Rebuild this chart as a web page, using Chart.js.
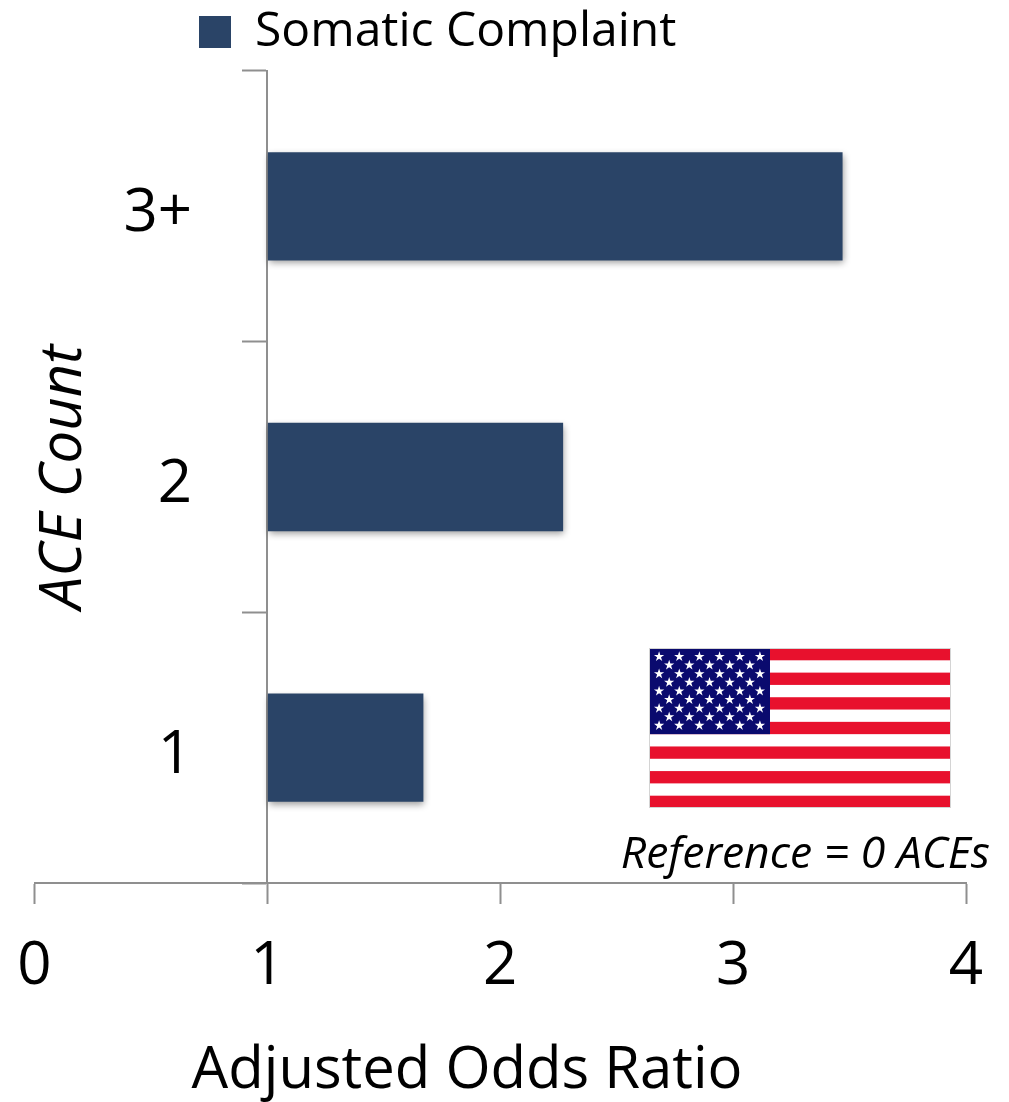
<!DOCTYPE html>
<html>
<head>
<meta charset="utf-8">
<title>Somatic Complaint by ACE Count</title>
<script src="https://cdn.jsdelivr.net/npm/chart.js@4/dist/chart.umd.min.js"></script>
<style>
  html, body { margin: 0; padding: 0; background: #ffffff; }
  #wrap { position: relative; width: 1009px; height: 1102px; }
</style>
</head>
<body>
<div id="wrap"><canvas id="chart" width="1009" height="1102"></canvas></div>
<script>
const categories = ['3+', '2', '1'];
const seriesName = 'Somatic Complaint';
const oddsRatios = [3.47, 2.27, 1.67];
const xTicks = [0, 1, 2, 3, 4];
const xAxisTitle = 'Adjusted Odds Ratio';
const yAxisTitle = 'ACE Count';
const noteText = 'Reference = 0 ACEs';

const FONT = '"Open Sans", sans-serif';
const AXIS_GREY = '#8f8f8f';

// Soft drop shadow under the bars.
const barShadow = {
  id: 'barShadow',
  beforeDatasetDraw(chart) {
    const c = chart.ctx;
    c.save();
    c.shadowColor = 'rgba(0,0,0,0.40)';
    c.shadowBlur = 7;
    c.shadowOffsetX = 1;
    c.shadowOffsetY = 3;
  },
  afterDatasetDraw(chart) { chart.ctx.restore(); }
};

// Places the legend above the plot, left of its centre.
const legendPlacement = {
  id: 'legendPlacement',
  afterLayout(chart) {
    chart.legend.left = 186;
    chart.legend.top = -5;
  }
};

function star(c, cx, cy, r) {
  c.beginPath();
  for (let i = 0; i < 10; i++) {
    const rad = i % 2 ? r * 0.382 : r;
    const a = -Math.PI / 2 + i * Math.PI / 5;
    c.lineTo(cx + rad * Math.cos(a), cy + rad * Math.sin(a));
  }
  c.closePath();
  c.fill();
}

// US flag, the reference-group note and the off-centre x axis title.
const annotations = {
  id: 'annotations',
  afterDraw(chart) {
    const c = chart.ctx;
    const left = 649, top = 648, w = 302, h = 160;
    const stripe = h / 13;
    c.save();
    c.fillStyle = '#ffffff';
    c.fillRect(left, top, w, h);
    c.fillStyle = '#e8112d';
    for (let i = 0; i < 13; i += 2) c.fillRect(left, top + i * stripe, w, stripe);
    const cantonW = 121, cantonH = stripe * 7;
    c.fillStyle = '#0a0a6e';
    c.fillRect(left, top, cantonW, cantonH);
    c.fillStyle = '#ffffff';
    const dx = cantonW / 6, dy = cantonH / 10;
    for (let row = 0; row < 9; row++) {
      const odd = row % 2 === 1;
      for (let col = 0; col < (odd ? 5 : 6); col++) {
        star(c, left + dx * (col + (odd ? 1 : 0.5)), top + dy * (row + 1), 5.4);
      }
    }
    c.strokeStyle = '#d4d4d4';
    c.lineWidth = 1;
    c.strokeRect(left + 0.5, top + 0.5, w - 1, h - 1);

    c.fillStyle = '#000000';
    c.textBaseline = 'middle';
    c.textAlign = 'right';
    c.font = 'italic 44.5px ' + FONT;
    c.fillText(noteText, 990, 855);

    c.textAlign = 'center';
    c.font = '58px ' + FONT;
    c.fillText(xAxisTitle, 467, 1071);
    c.restore();
  }
};

new Chart(document.getElementById('chart'), {
  type: 'bar',
  data: {
    labels: categories,
    datasets: [{
      label: seriesName,
      data: oddsRatios,
      base: 1,
      xAxisID: 'x',
      yAxisID: 'y',
      backgroundColor: '#2a4467',
      borderWidth: 0,
      barPercentage: 0.4,
      categoryPercentage: 1
    }]
  },
  plugins: [barShadow, legendPlacement, annotations],
  options: {
    indexAxis: 'y',
    responsive: false,
    animation: false,
    layout: { padding: { left: 0, right: 43, top: 0, bottom: 0 } },
    plugins: {
      tooltip: { enabled: false },
      legend: {
        position: 'top',
        align: 'start',
        labels: {
          boxWidth: 32,
          boxHeight: 32,
          padding: 13,
          color: '#000000',
          font: { family: FONT, size: 48 }
        }
      }
    },
    scales: {
      x: {
        type: 'linear',
        position: 'bottom',
        min: 0,
        max: 4,
        afterBuildTicks(scale) { scale.ticks = xTicks.map(v => ({ value: v })); },
        afterFit(scale) {
          scale.height = 219;
          scale.paddingLeft = 0;
          scale.paddingRight = 0;
        },
        border: { color: AXIS_GREY, width: 2 },
        grid: { drawOnChartArea: false, tickLength: 21, tickWidth: 2, tickColor: AXIS_GREY, color: AXIS_GREY },
        ticks: { color: '#000000', padding: 27, maxRotation: 0, font: { family: FONT, size: 60 } }
      },
      y: {
        type: 'category',
        position: { x: 1 },
        offset: true,
        border: { color: AXIS_GREY, width: 2 },
        grid: { drawOnChartArea: false, tickLength: 24, tickWidth: 2, tickColor: AXIS_GREY, color: AXIS_GREY, offset: true },
        ticks: { display: false }
      },
      categoryLabels: {
        type: 'category',
        position: 'left',
        labels: categories,
        offset: true,
        afterFit(scale) {
          scale.width = 34.5;
          scale.paddingTop = 0;
          scale.paddingBottom = 0;
        },
        border: { display: false },
        grid: { display: false },
        ticks: {
          color: '#000000',
          mirror: true,
          crossAlign: 'far',
          padding: 89,
          labelOffset: 8,
          font: { family: FONT, size: 60 }
        },
        title: {
          display: true,
          text: yAxisTitle,
          color: '#000000',
          font: { family: FONT, size: 58, style: 'italic' },
          padding: { top: 30, bottom: 0 }
        }
      }
    }
  }
});
</script>
</body>
</html>
